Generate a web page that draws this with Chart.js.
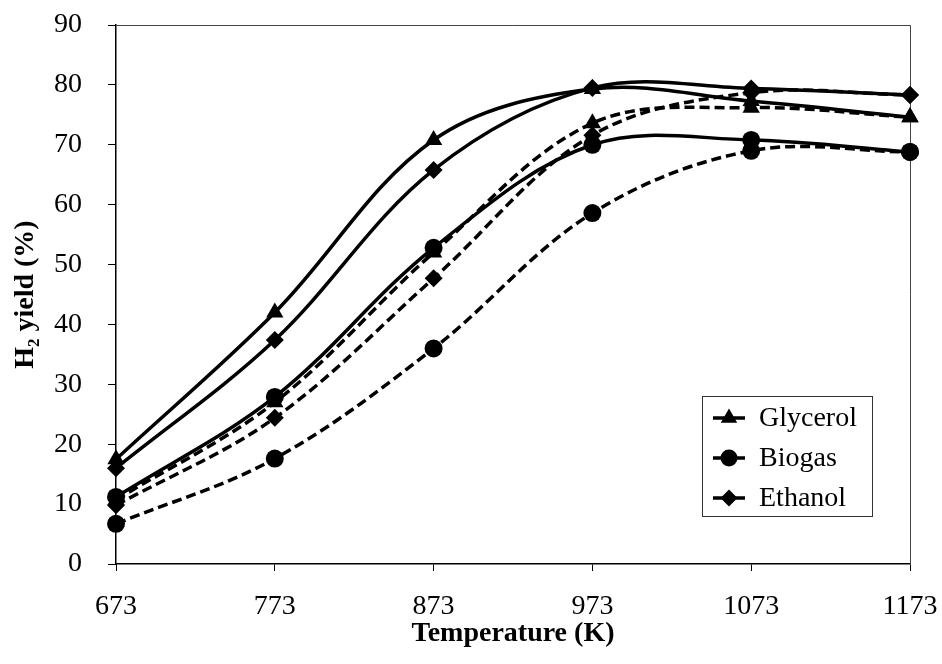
<!DOCTYPE html>
<html>
<head>
<meta charset="utf-8">
<script src="https://cdn.jsdelivr.net/npm/chart.js@4.4.1/dist/chart.umd.min.js"></script>
<style>
  html, body { margin: 0; padding: 0; background: #fff; }
  #wrap { width: 942px; height: 664px; }
</style>
</head>
<body>
<div id="wrap"><canvas id="my-chart" width="942" height="664"></canvas></div>
<script>
// temperatures (K) on the x axis
const temps = ['673', '773', '873', '973', '1073', '1173'];

// H2 yield (%), solid curves
const glycerolSolid = [17.5, 42.0, 70.8, 79.3, 77.3, 74.6];
const biogasSolid   = [11.2, 27.9, 52.8, 70.0, 70.8, 68.8];
const ethanolSolid  = [16.0, 37.4, 65.8, 79.5, 79.4, 78.3];

// H2 yield (%), dashed curves
const glycerolDashed = [10.7, 27.0, 52.0, 73.6, 76.2, 74.6];
const biogasDashed   = [6.7, 17.6, 36.0, 58.6, 69.0, 68.8];
const ethanolDashed  = [9.8, 24.4, 47.7, 71.6, 78.7, 78.3];

const legendNames = ['Glycerol', 'Biogas', 'Ethanol'];
const yTicks = [0, 10, 20, 30, 40, 50, 60, 70, 80, 90];

const FONT = "'Liberation Serif', 'Times New Roman', serif";
Chart.defaults.font.family = FONT;
Chart.defaults.color = '#000';

const styles = {
  Glycerol: { pointStyle: 'triangle', radius: 10 },
  Biogas:   { pointStyle: 'circle',   radius: 9 },
  Ethanol:  { pointStyle: 'rectRot',  radius: 9 }
};

function series(name, data, dashed) {
  return {
    label: name,
    data: data,
    borderColor: '#000',
    backgroundColor: '#000',
    borderWidth: 3.5,
    borderDash: dashed ? [10, 5] : [],
    pointStyle: styles[name].pointStyle,
    pointRadius: styles[name].radius,
    pointBorderWidth: 0,
    pointBackgroundColor: '#000',
    fill: false,
    tension: 0.35,
    cubicInterpolationMode: 'default'
  };
}

// top/right frame of the plot area
const frame = {
  id: 'frame',
  beforeDatasetsDraw(chart) {
    const { ctx, chartArea: a } = chart;
    ctx.save();
    ctx.strokeStyle = '#444';
    ctx.lineWidth = 1;
    ctx.beginPath();
    ctx.moveTo(a.left, a.top + 0.5);
    ctx.lineTo(a.right + 0.5, a.top + 0.5);
    ctx.lineTo(a.right + 0.5, a.bottom);
    ctx.stroke();
    ctx.restore();
  }
};

function marker(ctx, style, x, y, r) {
  ctx.beginPath();
  if (style === 'circle') {
    ctx.arc(x, y, r, 0, Math.PI * 2);
  } else if (style === 'triangle') {
    ctx.moveTo(x, y - r);
    ctx.lineTo(x + r * Math.sin(2 * Math.PI / 3), y - r * Math.cos(2 * Math.PI / 3));
    ctx.lineTo(x + r * Math.sin(4 * Math.PI / 3), y - r * Math.cos(4 * Math.PI / 3));
    ctx.closePath();
  } else {
    ctx.moveTo(x, y - r);
    ctx.lineTo(x + r, y);
    ctx.lineTo(x, y + r);
    ctx.lineTo(x - r, y);
    ctx.closePath();
  }
  ctx.fill();
}

// legend box inside the plot, only the three names
const boxLegend = {
  id: 'boxLegend',
  afterDraw(chart) {
    const ctx = chart.ctx;
    ctx.save();
    ctx.fillStyle = '#fff';
    ctx.fillRect(702, 396, 170, 120);
    ctx.strokeStyle = '#333';
    ctx.lineWidth = 1;
    ctx.strokeRect(702.5, 396.5, 170, 120);
    legendNames.forEach((name, i) => {
      const y = 418 + i * 40;
      ctx.strokeStyle = '#000';
      ctx.fillStyle = '#000';
      ctx.lineWidth = 3.5;
      ctx.beginPath();
      ctx.moveTo(713, y);
      ctx.lineTo(745, y);
      ctx.stroke();
      marker(ctx, styles[name].pointStyle, 729, y, styles[name].radius - 0.5);
      ctx.font = '28px ' + FONT;
      ctx.textBaseline = 'middle';
      ctx.textAlign = 'left';
      ctx.fillText(name, 759, y + 1);
    });
    ctx.restore();
  }
};

const ctx = document.getElementById('my-chart').getContext('2d');
const chart = new Chart(ctx, {
  type: 'line',
  data: {
    labels: temps,
    datasets: [
      series('Glycerol', glycerolSolid, false),
      series('Biogas', biogasSolid, false),
      series('Ethanol', ethanolSolid, false),
      series('Glycerol', glycerolDashed, true),
      series('Biogas', biogasDashed, true),
      series('Ethanol', ethanolDashed, true)
    ]
  },
  options: {
    responsive: false,
    animation: false,
    layout: { padding: { left: 0, top: 25, right: 32, bottom: 0 }, autoPadding: false },
    plugins: {
      legend: { display: false },
      tooltip: { enabled: false }
    },
    scales: {
      x: {
        type: 'category',
        offset: false,
        afterFit(scale) {
          scale.height = 100;
          scale.paddingLeft = 0;
          scale.paddingRight = 0;
        },
        grid: { display: true, drawOnChartArea: false, drawTicks: true, tickLength: 7, color: '#000', lineWidth: 1 },
        border: { display: true, color: '#000', width: 1.5 },
        ticks: { font: { size: 28, lineHeight: 1.2 }, padding: 19, maxRotation: 0, autoSkip: false },
        title: {
          display: true,
          text: 'Temperature (K)',
          font: { size: 28, weight: 'bold', lineHeight: 1.2 },
          padding: { top: 0, bottom: 13 }
        }
      },
      y: {
        min: 0,
        max: 90,
        afterFit(scale) {
          scale.width = 116;
          scale.paddingTop = 0;
          scale.paddingBottom = 0;
        },
        afterBuildTicks(scale) { scale.ticks = yTicks.map(v => ({ value: v })); },
        grid: { display: true, drawOnChartArea: false, drawTicks: true, tickLength: 8, color: '#000', lineWidth: 1 },
        border: { display: true, color: '#000', width: 1.5 },
        ticks: { font: { size: 28, lineHeight: 1.2 }, padding: 26 },
        title: {
          display: true,
          text: 'H\u2082 yield (%)',
          font: { size: 28, weight: 'bold', lineHeight: 1.2 },
          padding: { top: 9, bottom: 0 }
        }
      }
    }
  },
  plugins: [frame, boxLegend]
});
</script>
</body>
</html>
